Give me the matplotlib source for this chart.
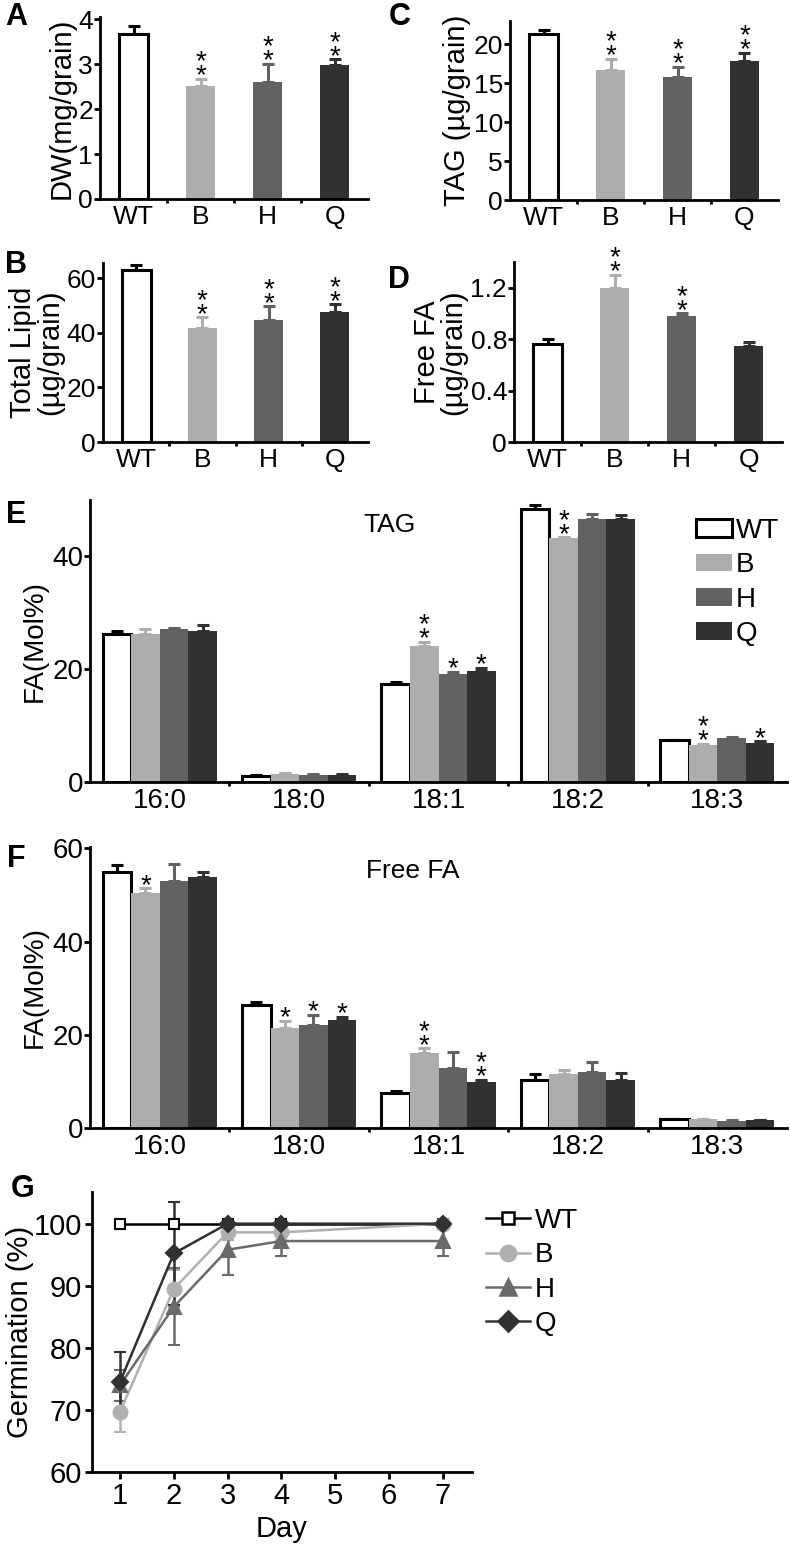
import matplotlib
matplotlib.use('Agg')
import matplotlib.pyplot as plt
from matplotlib.patches import Patch
from matplotlib.lines import Line2D
import numpy as np

plt.rcParams['font.family'] = ['Liberation Sans', 'DejaVu Sans']

W, H = 790, 1551

genotypes = ['WT', 'B', 'H', 'Q']
bar_colors = ['white', '#adadad', '#626262', '#313131']
err_colors = ['black', '#adadad', '#626262', '#313131']

# panel A: dry weight
dw = [3.67, 2.51, 2.61, 2.98]
dw_err = [0.17, 0.16, 0.40, 0.13]
dw_sig = [0, 2, 2, 2]

# panel C: TAG per grain
tag = [21.3, 16.7, 15.8, 17.9]
tag_err = [0.6, 1.4, 1.3, 1.0]
tag_sig = [0, 2, 2, 2]

# panel B: total lipid
lipid = [62.9, 41.8, 44.6, 47.4]
lipid_err = [1.9, 3.8, 5.1, 3.0]
lipid_sig = [0, 2, 2, 2]

# panel D: free FA
ffa = [0.76, 1.20, 0.98, 0.75]
ffa_err = [0.04, 0.10, 0.02, 0.03]
ffa_sig = [0, 2, 2, 0]

fatty_acids = ['16:0', '18:0', '18:1', '18:2', '18:3']

# panel E: FA composition of TAG (rows = genotype)
tag_fa = [[26.3, 1.1, 17.4, 48.4, 7.4],
          [26.2, 1.5, 24.1, 43.2, 6.6],
          [27.1, 1.3, 19.2, 46.6, 7.8],
          [26.8, 1.3, 19.6, 46.6, 7.0]]
tag_fa_err = [[0.4, 0.1, 0.3, 0.7, 0.1],
              [1.0, 0.1, 0.8, 0.2, 0.2],
              [0.2, 0.1, 0.3, 1.0, 0.1],
              [1.0, 0.1, 0.7, 0.8, 0.2]]
tag_fa_sig = [[0, 0, 0, 0, 0],
              [0, 0, 2, 2, 2],
              [0, 0, 1, 0, 0],
              [0, 0, 1, 0, 1]]

# panel F: FA composition of free FA
free_fa = [[54.9, 26.3, 7.6, 10.4, 1.9],
           [50.5, 21.4, 16.1, 11.6, 1.9],
           [53.0, 22.1, 12.9, 12.0, 1.6],
           [53.8, 23.2, 9.9, 10.4, 1.7]]
free_fa_err = [[1.5, 0.8, 0.3, 1.2, 0.1],
               [0.9, 1.6, 1.0, 0.9, 0.1],
               [3.6, 2.2, 3.5, 2.1, 0.1],
               [1.1, 0.7, 0.4, 1.4, 0.1]]
free_fa_sig = [[0, 0, 0, 0, 0],
               [1, 1, 2, 0, 0],
               [0, 1, 0, 0, 0],
               [0, 1, 2, 0, 0]]

# panel G: germination
days = [1, 2, 3, 4, 7]
germ = [[100, 100, 100, 100, 100],
        [69.7, 89.5, 98.6, 98.6, 100],
        [74.0, 86.6, 95.8, 97.2, 97.2],
        [74.5, 95.2, 100, 100, 100]]
germ_err = [[0, 0, 0, 0, 0],
            [3.2, 3.0, 1.2, 1.2, 0],
            [2.5, 6.2, 4.0, 2.4, 2.4],
            [4.8, 8.3, 0, 0, 0]]
line_colors = ['black', '#b0b0b0', '#6a6a6a', '#313131']
markers = ['s', 'o', '^', 'D']

fig = plt.figure(figsize=(W / 100, H / 100), dpi=100)


def px_axes(left, top, right, bottom):
    return fig.add_axes([left / W, 1 - bottom / H, (right - left) / W, (bottom - top) / H])


def px_text(x, y, s, **kw):
    fig.text(x / W, 1 - y / H, s, **kw)


def style_axes(ax, tick_fs):
    for side in ('top', 'right'):
        ax.spines[side].set_visible(False)
    for side in ('left', 'bottom'):
        ax.spines[side].set_linewidth(2.0)
    ax.tick_params(axis='y', direction='out', length=4, width=2.0, labelsize=tick_fs, pad=1)
    ax.tick_params(axis='x', which='major', length=0, labelsize=tick_fs, pad=4)
    ax.tick_params(axis='x', which='minor', direction='out', length=3, width=2.0)


def stars(ax, x, y, n, fs=20):
    # significance marks stacked in one text: one or two asterisks
    if n == 0:
        return
    ax.annotate('\n'.join(['*'] * n), (x, y), xytext=(0, -0.22 * fs + 1 - 0.21 * fs),
                textcoords='offset points', ha='center', va='bottom', fontsize=fs,
                linespacing=0.4)


def bar_panel(ax, vals, errs, sig, ymax, yticks, yticklabels, ylabel, tick_fs=19):
    x = np.arange(len(vals))
    for i in range(len(vals)):
        ax.bar(x[i], vals[i], width=0.44, color=bar_colors[i],
               edgecolor='black' if i == 0 else bar_colors[i], linewidth=2.2 if i == 0 else 0, zorder=2)
        ax.errorbar(x[i], vals[i], yerr=[[0], [errs[i]]], fmt='none', ecolor=err_colors[i],
                    elinewidth=2.2, capsize=4, capthick=2.2, zorder=1)
        stars(ax, x[i], vals[i] + errs[i], sig[i])
    ax.set_xlim(-0.5, len(vals) - 0.5)
    ax.set_ylim(0, ymax)
    ax.set_yticks(yticks)
    ax.set_yticklabels(yticklabels)
    ax.set_xticks(x)
    ax.set_xticklabels(genotypes)
    ax.set_xticks(np.arange(0.5, len(vals) - 0.5, 1), minor=True)
    ax.set_ylabel(ylabel, fontsize=21, labelpad=2, linespacing=0.95)
    style_axes(ax, tick_fs)


def group_panel(ax, data, errs, sig, ymax, yticks, title, title_xy):
    n = len(data)
    x = np.arange(len(fatty_acids))
    w = 0.205
    for i in range(n):
        pos = x + (i - 1.5) * w
        ax.bar(pos, data[i], width=w, color=bar_colors[i],
               edgecolor='black' if i == 0 else bar_colors[i], linewidth=2.2 if i == 0 else 0, zorder=2)
        ax.errorbar(pos, data[i], yerr=[np.zeros(len(x)), errs[i]], fmt='none', ecolor=err_colors[i],
                    elinewidth=2.2, capsize=4, capthick=2.2, zorder=1)
        for j in range(len(x)):
            stars(ax, pos[j], data[i][j] + errs[i][j], sig[i][j])
    ax.set_xlim(-0.5, len(x) - 0.5)
    ax.set_ylim(0, ymax)
    ax.set_yticks(yticks)
    ax.set_xticks(x)
    ax.set_xticklabels(fatty_acids)
    ax.set_xticks(np.arange(0.5, len(x) - 0.5, 1), minor=True)
    ax.set_ylabel('FA(Mol%)', fontsize=20, labelpad=3)
    style_axes(ax, 20)
    px_text(title_xy[0], title_xy[1], title, ha='center', va='baseline', fontsize=19)


# A
axA = px_axes(100, 17, 368, 199)
bar_panel(axA, dw, dw_err, dw_sig, 4.05, [0, 1, 2, 3, 4], ['0', '1', '2', '3', '4'], 'DW(mg/grain)')
# C
axC = px_axes(510, 21, 778, 200)
bar_panel(axC, tag, tag_err, tag_sig, 23, [0, 5, 10, 15, 20], ['0', '5', '10', '15', '20'], 'TAG (µg/grain)')
# B
axB = px_axes(103, 263, 368, 442)
bar_panel(axB, lipid, lipid_err, lipid_sig, 65.5, [0, 20, 40, 60], ['0', '20', '40', '60'],
          'Total Lipid\n(µg/grain)')
# D
axD = px_axes(514, 262, 782, 442)
bar_panel(axD, ffa, ffa_err, ffa_sig, 1.40, [0, 0.4, 0.8, 1.2], ['0', '0.4', '0.8', '1.2'],
          'Free FA\n(µg/grain)')

# E
axE = px_axes(90, 500, 787, 782)
group_panel(axE, tag_fa, tag_fa_err, tag_fa_sig, 50, [0, 20, 40], 'TAG', (390, 532))
handles = [Patch(facecolor=bar_colors[i], edgecolor='black' if i == 0 else bar_colors[i],
                 linewidth=2.2 if i == 0 else 0) for i in range(4)]
fig.legend(handles, genotypes, loc='upper left', bbox_to_anchor=(696 / W, 1 - 518 / H), frameon=False,
           fontsize=20, handlelength=1.3, handleheight=0.6, handletextpad=0.12, labelspacing=0.3,
           borderpad=0, borderaxespad=0)

# F
axF = px_axes(90, 847, 787, 1128)
group_panel(axF, free_fa, free_fa_err, free_fa_sig, 60.3, [0, 20, 40, 60], 'Free FA', (413, 878))

# G
axG = px_axes(92, 1192, 472, 1472)
for i in range(4):
    mfc = 'white' if i == 0 else line_colors[i]
    ms = {'s': 7, 'o': 10, '^': 10, 'D': 8}[markers[i]]
    axG.errorbar(days, germ[i], yerr=germ_err[i], color=line_colors[i], lw=1.8, marker=markers[i],
                 ms=ms, mfc=mfc, mec=line_colors[i], mew=1.5, elinewidth=1.8, capsize=4, capthick=1.8,
                 label=genotypes[i])
axG.set_xlim(0.48, 7.54)
axG.set_ylim(60, 105.1)
axG.set_xticks(range(1, 8))
axG.set_yticks([60, 70, 80, 90, 100])
for side in ('top', 'right'):
    axG.spines[side].set_visible(False)
for side in ('left', 'bottom'):
    axG.spines[side].set_linewidth(2.0)
axG.tick_params(direction='out', length=5, width=2.0, labelsize=21, pad=2)
axG.set_xlabel('Day', fontsize=21, labelpad=4)
axG.set_ylabel('Germination (%)', fontsize=21, labelpad=0)
gh = [Line2D([0], [0], color=line_colors[i], lw=1.8, marker=markers[i],
             ms={'s': 9, 'o': 11, '^': 11, 'D': 10}[markers[i]],
             mfc='white' if i == 0 else line_colors[i], mec=line_colors[i], mew=1.8) for i in range(4)]
fig.legend(gh, genotypes, loc='upper left', bbox_to_anchor=(486 / W, 1 - 1208 / H), frameon=False,
           fontsize=20, handlelength=1.6, handletextpad=0.15, labelspacing=0.3, borderpad=0,
           borderaxespad=0)

# panel letters
for letter, (lx, ly) in {'A': (5, 25), 'C': (389, 25), 'B': (5, 273), 'D': (388, 288),
                         'E': (6, 523), 'F': (7, 867), 'G': (11, 1197)}.items():
    px_text(lx, ly, letter, fontsize=22, fontweight='bold', va='baseline', ha='left')

fig.savefig('out.png', dpi=100)
